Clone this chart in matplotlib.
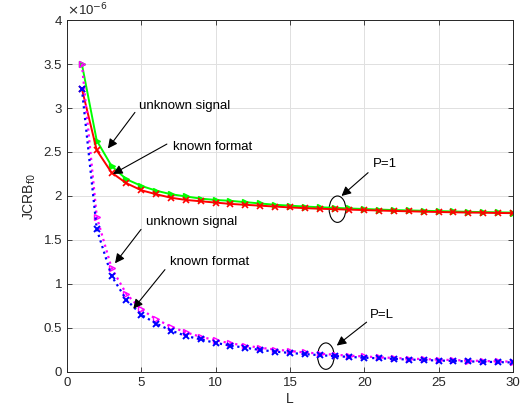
import numpy as np
import matplotlib
matplotlib.use('Agg')
import matplotlib.pyplot as plt
from matplotlib.patches import Ellipse

plt.rcParams['font.family'] = ['Liberation Sans', 'DejaVu Sans']

# 数据 (从图中读取, 单位 1e-6)
L = np.arange(1, 31)
unknown_p1 = [3.50, 2.63, 2.34, 2.19, 2.115, 2.06, 2.02, 1.995, 1.97, 1.955,
              1.945, 1.93, 1.915, 1.90, 1.89, 1.88, 1.872, 1.865, 1.858, 1.852,
              1.846, 1.84, 1.836, 1.832, 1.828, 1.824, 1.82, 1.817, 1.814, 1.811]
known_p1 = [3.22, 2.52, 2.265, 2.145, 2.065, 2.02, 1.98, 1.955, 1.94, 1.925,
            1.91, 1.90, 1.89, 1.88, 1.87, 1.862, 1.855, 1.85, 1.845, 1.84,
            1.835, 1.83, 1.826, 1.822, 1.818, 1.815, 1.812, 1.81, 1.807, 1.805]
unknown_pl = [3.50, 1.765, 1.18, 0.886, 0.71, 0.60, 0.515, 0.45, 0.40, 0.36,
              0.325, 0.30, 0.275, 0.255, 0.238, 0.222, 0.208, 0.196, 0.185, 0.176,
              0.167, 0.159, 0.152, 0.146, 0.140, 0.135, 0.130, 0.125, 0.121, 0.117]
known_pl = [3.22, 1.625, 1.09, 0.82, 0.65, 0.55, 0.47, 0.41, 0.37, 0.33,
            0.30, 0.275, 0.25, 0.232, 0.216, 0.203, 0.191, 0.180, 0.171, 0.162,
            0.155, 0.148, 0.141, 0.135, 0.130, 0.125, 0.120, 0.116, 0.112, 0.108]

xticks = [0, 5, 10, 15, 20, 25, 30]
yticks = [0, 0.5, 1, 1.5, 2, 2.5, 3, 3.5, 4]
ytick_labels = ['0', '0.5', '1', '1.5', '2', '2.5', '3', '3.5', '4']

fig = plt.figure(figsize=(5.26, 4.17), dpi=100)
ax = fig.add_axes([0.1274, 0.108, 0.8476, 0.844])

ax.plot(L, unknown_p1, '-', color='#00ff00', lw=1.4, marker='>', ms=5,
        mfc='#00ff00', mec='#00ff00')
ax.plot(L, known_p1, '-', color='red', lw=1.4, marker='x', ms=4, mew=1.2)
ax.plot(L, unknown_pl, ':', color='magenta', lw=1.6, marker='>', ms=5,
        mfc='none', mec='magenta', mew=1.0)
ax.plot(L, known_pl, ':', color='blue', lw=1.6, marker='x', ms=4, mew=1.4)

ax.set_xlim(0, 30)
ax.set_ylim(0, 4)
ax.set_xticks(xticks)
ax.set_yticks(yticks)
ax.set_yticklabels(ytick_labels)
ax.tick_params(direction='in', top=True, right=True, labelsize=9.5,
               colors='#262626', length=3.5, width=0.6)
ax.grid(True, color='#e0e0e0', lw=0.7)
ax.set_axisbelow(True)
for s in ax.spines.values():
    s.set_color('#262626')
    s.set_linewidth(0.7)

ax.set_xlabel('L', fontsize=10, color='#262626', labelpad=2)
ax.set_ylabel('JCRB$_{\\mathrm{f0}}$', fontsize=10, color='#262626', labelpad=4)
ax.text(0.0, 1.005, '$\\times$10$^{-6}$', transform=ax.transAxes, fontsize=9.5,
        color='#262626', ha='left', va='bottom')

arrow = dict(arrowstyle='-|>', color='black', lw=0.8, mutation_scale=14,
             shrinkA=0, shrinkB=0)
ax.annotate('', xy=(2.75, 2.54), xytext=(4.57, 2.95), arrowprops=arrow)
ax.text(4.85, 3.02, 'unknown signal', fontsize=9.5, va='center')
ax.annotate('', xy=(3.09, 2.25), xytext=(6.72, 2.59), arrowprops=arrow)
ax.text(7.1, 2.56, 'known format', fontsize=9.5, va='center')
ax.annotate('', xy=(3.23, 1.235), xytext=(4.98, 1.62), arrowprops=arrow)
ax.text(5.3, 1.70, 'unknown signal', fontsize=9.5, va='center')
ax.annotate('', xy=(4.46, 0.718), xytext=(6.59, 1.163), arrowprops=arrow)
ax.text(6.9, 1.25, 'known format', fontsize=9.5, va='center')

ax.annotate('', xy=(18.47, 2.0), xytext=(20.26, 2.265), arrowprops=arrow)
ax.text(20.6, 2.36, 'P=1', fontsize=9.5, va='center')
ax.add_patch(Ellipse((18.2, 1.85), 1.12, 0.30, fill=False, ec='black', lw=0.8))
ax.annotate('', xy=(18.15, 0.30), xytext=(20.16, 0.566), arrowprops=arrow)
ax.text(20.4, 0.65, 'P=L', fontsize=9.5, va='center')
ax.add_patch(Ellipse((17.42, 0.18), 1.12, 0.30, fill=False, ec='black', lw=0.8))

plt.savefig('out.png', dpi=100)
